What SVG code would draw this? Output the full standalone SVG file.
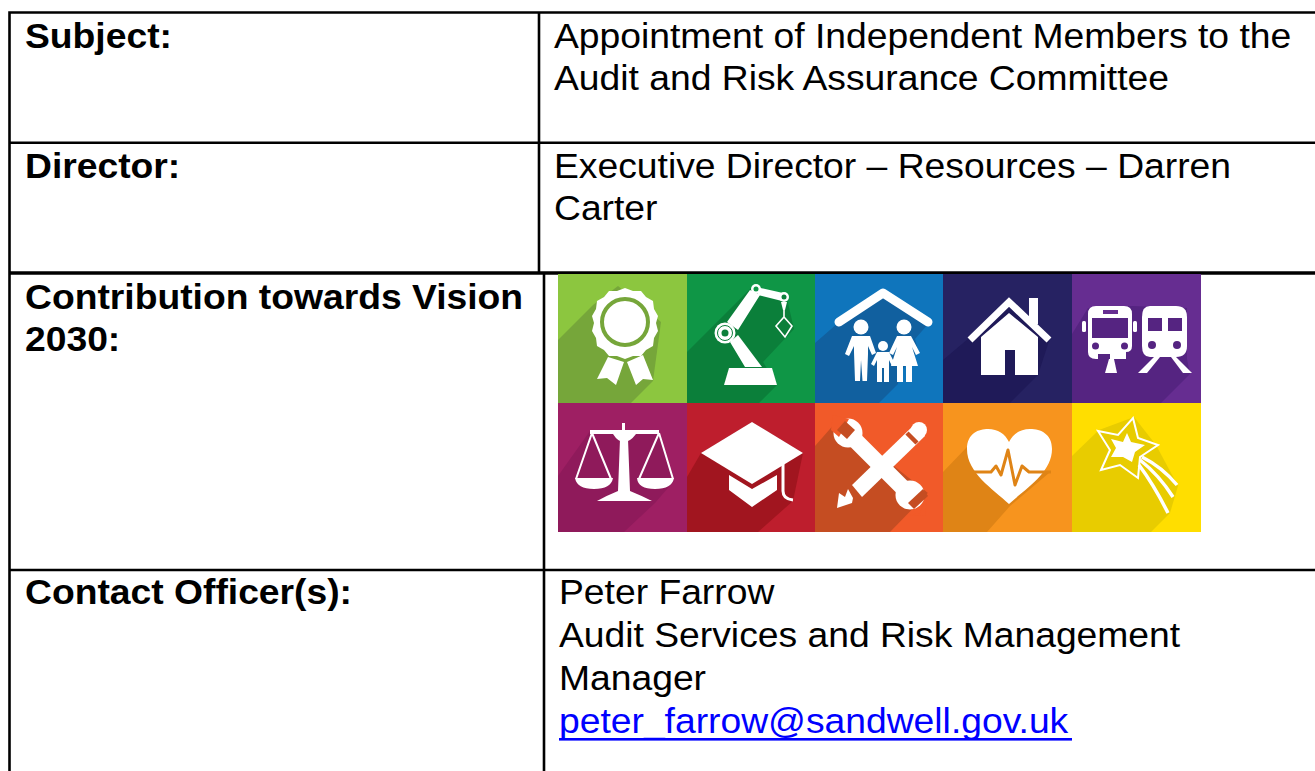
<svg xmlns="http://www.w3.org/2000/svg" width="1315" height="771" viewBox="0 0 1315 771">
<style>
text{font-family:"Liberation Sans",Arial,sans-serif;font-size:35.5px;fill:#000}
.b{font-weight:bold}
.l{fill:none;stroke:#000;stroke-width:2.6}
.w{fill:#fff}
.s{fill:none;stroke:#fff;stroke-linecap:round;stroke-linejoin:round}
</style>
<rect width="1315" height="771" fill="#fff"/>
<g id="grid">
<path class="l" d="M9.500 771V12.500H1315M539 12.500V273M9.500 142.700H1315M544 273V771M9.500 570H1315"/>
<path d="M9 273H1315" stroke="#000" stroke-width="3.400"/>
</g>
<g id="labels">
<text class="b" transform="matrix(1.05 0 0 1 25 48)">Subject:</text>
<text class="b" transform="matrix(1.05 0 0 1 25 178)">Director:</text>
<text class="b" transform="matrix(1.05 0 0 1 25 309)">Contribution towards Vision</text>
<text class="b" transform="matrix(1.05 0 0 1 25 351)">2030:</text>
<text class="b" transform="matrix(1.05 0 0 1 25 604)">Contact Officer(s):</text>
</g>
<g id="values">
<text transform="matrix(1.05 0 0 1 554 48)">Appointment of Independent Members to the</text>
<text transform="matrix(1.05 0 0 1 554 90)">Audit and Risk Assurance Committee</text>
<text transform="matrix(1.05 0 0 1 554 178)">Executive Director – Resources – Darren</text>
<text transform="matrix(1.05 0 0 1 554 220)">Carter</text>
<text transform="matrix(1.05 0 0 1 559 604)">Peter Farrow</text>
<text transform="matrix(1.05 0 0 1 559 647)">Audit Services and Risk Management</text>
<text transform="matrix(1.05 0 0 1 559 690)">Manager</text>
<text transform="matrix(1.05 0 0 1 559 733)" style="fill:#0000ff">peter_farrow@sandwell.gov.uk</text>
<rect x="559" y="738" width="513" height="2.600" fill="#0000ff"/>
</g>
<g id="t1" transform="translate(558 274)">
<rect width="129" height="129" fill="#8cc63f"/>
<path d="M0 66 35 31 60 12 103 48 95 107 73 129H0Z" fill="#76a63a"/>
<path class="w" d="M67 14l8 3 8 0 5 6 7 4 1 8 4 7-2 7 2 8-4 7-1 8-7 4-5 6-8 0-8 3-8-3-8 0-5-6-7-4-1-8-4-7 2-8-2-7 4-7 1-8 7-4 5-6 8 0Z"/>
<circle cx="67" cy="48" r="23" fill="none" stroke="#76a63a" stroke-width="4"/>
<path class="w" d="M50 83 66 88 58 111 49 104 39 105ZM69 88 85 81 95 106 85 105 78 111Z"/>
</g>
<g id="t2" transform="translate(687 274)">
<rect width="129" height="129" fill="#0f9646"/>
<path d="M0 78 65 13 100 25 107 55 76 88 90 111 72 129H0Z" fill="#0b7f3a"/>
<path class="w" d="M42 94H85L90 111H37Z"/>
<path class="w" d="M43 68 51 61 75 93H58ZM63 16 73 21 51 56 40 48Z"/>
<path class="w" d="M69 13 96 19 95 27 71 21Z"/>
<circle cx="38" cy="59" r="10.500" class="w"/><circle cx="38" cy="59" r="7.500" fill="none" stroke="#0b7f3a" stroke-width="1"/><circle cx="38" cy="59" r="3.500" fill="#0b7f3a"/>
<circle cx="69" cy="15" r="5" class="w"/><circle cx="69" cy="15" r="2.500" fill="#0f9646"/>
<circle cx="97" cy="23" r="5" class="w"/><circle cx="97" cy="23" r="2.500" fill="#0b7f3a"/>
<path class="w" d="M94 28H100L98 36H96Z"/>
<path d="M97 34V43M97 43 105 52 98 63 89 52Z" fill="none" stroke="#fff" stroke-width="1.600"/>
</g>
<g id="t3" transform="translate(815 274)">
<rect width="129" height="129" fill="#0f75bc"/>
<path d="M0 69 23 49 68 16 114 49 100 65 103 76 84 100 83 110 64 129H0Z" fill="#11609f"/>
<path class="s" stroke-width="9" d="M24 48 68 19 113 48"/>
<circle cx="46" cy="53" r="7.500" class="w"/><circle cx="68" cy="72" r="5" class="w"/><circle cx="89" cy="53" r="7.500" class="w"/>
<path class="w" d="M37 62H55L61 79 57 81 53 72V80L52 107H47.500L46 86 45 107H40L39 78V72L34 82 30 80Z"/>
<path class="w" d="M82 62H96L105 79 101 81 97 73 103 92H97V108H91V92H88V108H82V92H76L82 73 78 81 74 79Z"/>
<path class="w" d="M62 78H74L80 90 77 92 74 86V108H69V94H67V108H62V86L59 92 56 90Z"/>
</g>
<g id="t4" transform="translate(943 274)">
<rect width="129" height="129" fill="#262262"/>
<path d="M0 86 26 64 66 25 107 64 95 101 67 129H0Z" fill="#1f1a58"/>
<path class="w" d="M66 39 95 63V101H72V76H62V101H38V63Z"/>
<path class="w" d="M86 24H95V50H86Z"/>
<path d="M27 66 66 28 106 66" fill="none" stroke="#fff" stroke-width="7"/>
</g>
<g id="t5" transform="translate(1072 274)">
<rect width="129" height="129" fill="#662d91"/>
<path d="M0 60 16 34 60 32 115 34 115 85 118 100 89 129H0Z" fill="#552481"/>
<path class="w" d="M24 32H52Q60 32 60 40V72Q60 78 54 78V85H38V80H26V85H24Q16 85 16 78V40Q16 32 24 32Z"/>
<rect x="20" y="44" width="36" height="20" fill="#552481"/>
<rect x="31" y="36" width="15" height="4" fill="#662d91"/>
<circle cx="23.500" cy="72" r="3.500" fill="#552481"/><circle cx="52.500" cy="72" r="3.500" fill="#552481"/>
<rect x="10" y="47" width="4" height="11" rx="1.500" class="w"/><rect x="61" y="47" width="4" height="11" rx="1.500" class="w"/>
<path class="w" d="M37 85H42L45 99H33Z"/>
<path class="w" d="M78 32H104Q115 32 115 43V72Q115 83 104 83H78Q70 83 70 72V43Q70 32 78 32Z"/>
<rect x="76" y="44" width="14" height="13" fill="#552481"/><rect x="96" y="44" width="14" height="13" fill="#552481"/>
<circle cx="80" cy="71" r="4" fill="#552481"/><circle cx="105" cy="71" r="4" fill="#552481"/>
<path class="w" d="M82 83H88L75 99H66ZM99 83H104L120 99H111Z"/>
</g>
<g id="t6" transform="translate(558 403)">
<rect width="129" height="129" fill="#9e1f63"/>
<path d="M0 73 32 28 100 28 116 78 97 100 66 129H0Z" fill="#8f1a5b"/>
<path class="w" d="M32 27H101V31H78Q72 39 66 39 60 39 55 31H32Z"/>
<rect x="64" y="20" width="3" height="9" class="w"/>
<path class="w" d="M62 36H70L72 88Q82 92 94 98H39Q50 92 60 88Z"/>
<path d="M34 30 18 76M34 30 53 76M101 30 81 76M101 30 115 76" stroke="#fff" stroke-width="2" fill="none"/>
<path class="w" d="M17 75H55Q53 86 36 86 19 86 17 75ZM79 75H116Q114 86 97 86 80 86 79 75Z"/>
</g>
<g id="t7" transform="translate(687 403)">
<rect width="129" height="129" fill="#be1e2d"/>
<path d="M0 74 14 50 65 19 116 50 106 98 71 129H0Z" fill="#a1151f"/>
<path class="w" d="M65 19 116 50 65 81 14 50Z"/>
<path class="w" d="M42 72 65 86 90 72V87L65 104 42 87Z"/>
<path d="M96 60V88Q96 96 106 97" fill="none" stroke="#fff" stroke-width="3"/>
</g>
<g id="t8" transform="translate(815 403)">
<rect width="129" height="129" fill="#f15a29"/>
<path d="M0 43 22 18 113 90 75 129H0Z" fill="#c54d22"/>
<path d="M37 82 100 21 110 33 47 94Z" class="w"/>
<circle cx="104" cy="27" r="8" class="w"/>
<path d="M92 30 102 40" stroke="#c54d22" stroke-width="4.500"/>
<path class="w" d="M22 105 24 90 30 94 33 86 38 95 37 100Z"/>
<path class="s" stroke-width="16" stroke-linecap="butt" d="M34 31 95 92"/>
<circle cx="33" cy="30" r="14.500" class="w"/><circle cx="95" cy="92" r="14.500" class="w"/>
<path d="M18 12 34 16 24 34 16 27Z" fill="#f15a29"/><path d="M30 18 40 27 32 36 22 27Z" fill="#c54d22"/>
<path d="M113 89 105 110 94 112 110 113Z" fill="#f15a29"/><path d="M108 86 113 93 99 106 93 100Z" fill="#c54d22"/>
</g>
<g id="t9" transform="translate(943 403)">
<rect width="129" height="129" fill="#f7941e"/>
<path d="M0 69 24 44 106 70 67 103 44 129H0Z" fill="#df8416"/>
<path class="w" d="M66 101C50 86 24 70 24 46 24 30 36 26 45 26 55 26 62 31 66 39 70 31 77 26 87 26 98 26 109 31 109 46 109 70 82 86 66 101Z"/>
<path d="M28 69H48L53 63 58 72 65 47 72 82 79 63 86 69H108" fill="none" stroke="#df8416" stroke-width="3" stroke-linejoin="round"/>
</g>
<g id="t10" transform="translate(1072 403)">
<rect width="129" height="129" fill="#ffde00"/>
<path d="M0 53 27 27 62 14 84 42 106 83 98 110 79 129H0Z" fill="#e8cc00"/>
<path d="M61 15 66 35 86 42 68 54 66 75 48 62 29 67 38 47 26 28 46 32Z" fill="none" stroke="#fff" stroke-width="2"/>
<path class="w" d="M55 30 59 39 73 42 63 49 60 59 51 54 39 54 44 45 39 36 51 39Z"/>
<path d="M70 54Q90 64 105 82M68 57Q87 72 101 94M67 62Q82 82 96 110" fill="none" stroke="#fff" stroke-width="3.500"/>
</g>
</svg>
